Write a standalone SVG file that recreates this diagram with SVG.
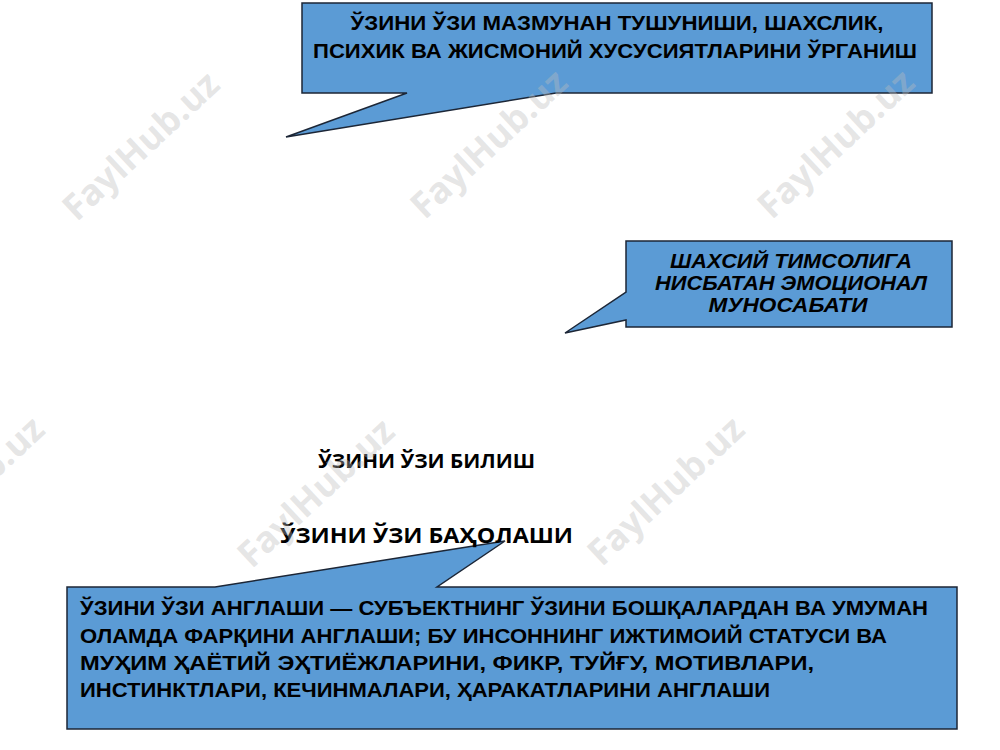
<svg xmlns="http://www.w3.org/2000/svg" width="1000" height="750" viewBox="0 0 1000 750">
<style>
.callout{fill:#5b9bd5;stroke:#1c2636;stroke-width:1.5;stroke-linejoin:miter}
.bx{font-family:"Liberation Sans",Arial,sans-serif;font-weight:bold;fill:#000}
.nr{font-family:"Liberation Sans Narrow","Liberation Sans",Arial,sans-serif;font-weight:bold;fill:#000;font-size:21px}
.lbl{font-family:"Open Sans","Noto Sans",sans-serif;font-weight:bold;fill:#000}
.wm{font-family:"Open Sans","Noto Sans",sans-serif;font-weight:bold;font-size:36px;fill:#bdbdbd;fill-opacity:0.4;text-anchor:middle;dominant-baseline:central}
</style>
<rect width="1000" height="750" fill="#fff"/>
<g id="connectors"/>
<g id="node-top">
<path class="callout" d="M302,3 H932 V93 H556 L286,137 L407,93 H302 Z"/>
<text class="bx" font-size="20" text-anchor="middle" x="617" y="30" textLength="533" lengthAdjust="spacingAndGlyphs">ЎЗИНИ ЎЗИ МАЗМУНАН ТУШУНИШИ, ШАХСЛИК,</text>
<text class="bx" font-size="20" text-anchor="middle" x="615" y="58" textLength="604" lengthAdjust="spacingAndGlyphs">ПСИХИК ВА ЖИСМОНИЙ ХУСУСИЯТЛАРИНИ ЎРГАНИШ</text>
</g>
<g id="node-right">
<path class="callout" d="M626,241 H952 V327 H626 V320 L565,333 L626,292 Z"/>
<text class="bx" font-size="21" font-style="italic" text-anchor="middle" x="791" y="268" textLength="242" lengthAdjust="spacingAndGlyphs">ШАХСИЙ ТИМСОЛИГА</text>
<text class="bx" font-size="21" font-style="italic" text-anchor="middle" x="791" y="290" textLength="272" lengthAdjust="spacingAndGlyphs">НИСБАТАН ЭМОЦИОНАЛ</text>
<text class="bx" font-size="21" font-style="italic" text-anchor="middle" x="788" y="312" textLength="159" lengthAdjust="spacingAndGlyphs">МУНОСАБАТИ</text>
</g>
<g id="node-bottom">
<path class="callout" d="M67,587 H215 L505,541 L437,587 H957 V729 H67 Z"/>
<text class="nr" x="80" y="615" textLength="848" lengthAdjust="spacingAndGlyphs">ЎЗИНИ ЎЗИ АНГЛАШИ — СУБЪЕКТНИНГ ЎЗИНИ БОШҚАЛАРДАН ВА УМУМАН</text>
<text class="nr" x="80" y="643" textLength="807" lengthAdjust="spacingAndGlyphs">ОЛАМДА ФАРҚИНИ АНГЛАШИ; БУ ИНСОННИНГ ИЖТИМОИЙ СТАТУСИ ВА</text>
<text class="nr" x="80" y="670" textLength="734" lengthAdjust="spacingAndGlyphs">МУҲИМ ҲАЁТИЙ ЭҲТИЁЖЛАРИНИ, ФИКР, ТУЙҒУ, МОТИВЛАРИ,</text>
<text class="nr" x="80" y="697" textLength="690" lengthAdjust="spacingAndGlyphs">ИНСТИНКТЛАРИ, КЕЧИНМАЛАРИ, ҲАРАКАТЛАРИНИ АНГЛАШИ</text>
</g>
<g id="node-bilish">
<text class="lbl" font-size="20" x="318" y="468" textLength="217" lengthAdjust="spacingAndGlyphs">ЎЗИНИ ЎЗИ БИЛИШ</text>
</g>
<g id="node-baholashi">
<text class="lbl" font-size="22" x="280" y="543" textLength="293" lengthAdjust="spacingAndGlyphs">ЎЗИНИ ЎЗИ БАҲОЛАШИ</text>
</g>
<g id="watermarks">
<text class="wm" transform="translate(140,145) rotate(-43)">FaylHub.uz</text>
<text class="wm" transform="translate(488,143) rotate(-43)">FaylHub.uz</text>
<text class="wm" transform="translate(835,143) rotate(-43)">FaylHub.uz</text>
<text class="wm" transform="translate(-35,490) rotate(-43)">FaylHub.uz</text>
<text class="wm" transform="translate(315,492) rotate(-43)">FaylHub.uz</text>
<text class="wm" transform="translate(665,490) rotate(-43)">FaylHub.uz</text>
</g>
</svg>
